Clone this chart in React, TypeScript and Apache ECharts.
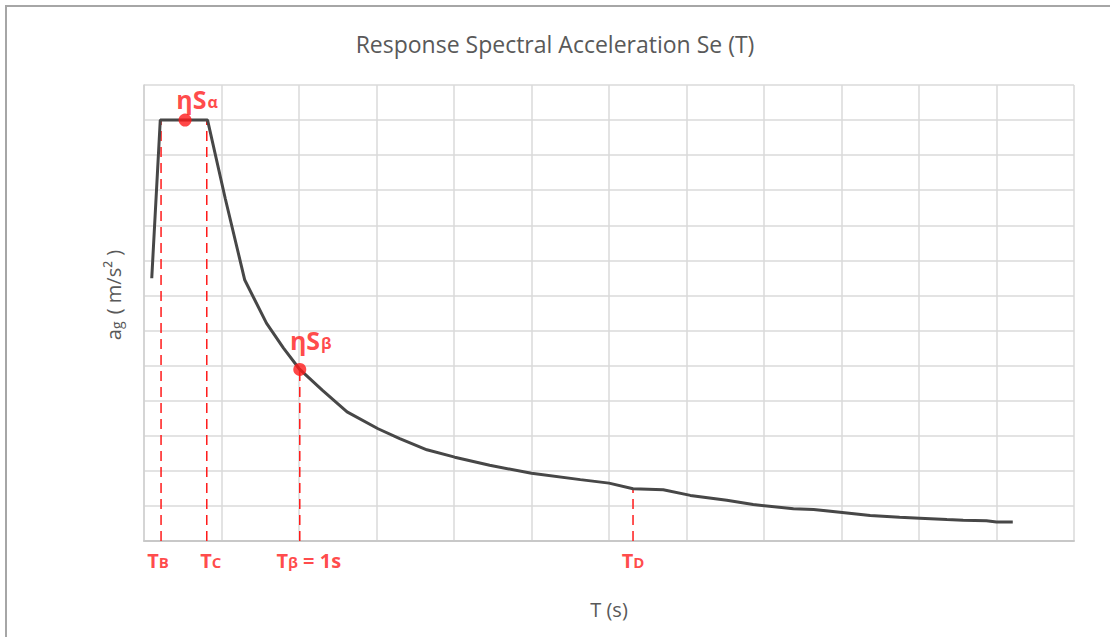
import React, { useEffect, useRef } from "react";
import * as echarts from "echarts";

const periodT = [0.10, 0.21, 0.82, 1.05, 1.30, 1.58, 1.80, 2.01, 2.30, 2.62, 3.02, 3.30, 3.65, 4.01, 4.46, 5.0, 5.63, 6.0, 6.31, 6.70, 7.05, 7.52, 7.86, 8.38, 8.64, 8.98, 9.37, 9.75, 10.01, 10.36, 10.57, 10.87, 11.0, 11.21];
const accel = [7.49, 12.0, 12.0, 9.75, 7.44, 6.21, 5.5, 4.89, 4.3, 3.68, 3.2, 2.92, 2.6, 2.39, 2.16, 1.93, 1.75, 1.65, 1.49, 1.46, 1.30, 1.16, 1.04, 0.92, 0.90, 0.82, 0.73, 0.68, 0.65, 0.61, 0.59, 0.58, 0.54, 0.54];

// characteristic periods (dashed lines): x position and top value
const markNames = ["T{s|B}", "T{s|C}", "T{s|β} = 1s", "T{s|D}"];
const markT = [0.22, 0.81, 2.01, 6.31];
const markTop = [12.0, 12.0, 4.89, 1.49];
const markLabelShift = [-3, 4, 9, 0];

// highlighted points
const pointNames = ["ηS{s|α}", "ηS{s|β}"];
const pointT = [0.53, 2.01];
const pointA = [12.0, 4.89];

const xMax = 12;
const yMax = 13;

const RED = "#ff1a1a";
const GRAY_TEXT = "#595959";
const FONT = "Open Sans";

export default function App() {
  const ref = useRef<HTMLDivElement>(null);
  useEffect(() => {
    if (!ref.current) return;
    const chart = echarts.init(ref.current, null, { renderer: "svg" });

    const curve = periodT.map((t, i) => [t, accel[i]]);
    const dashed = markT.map((t, i) => ({
      type: "line",
      data: [[t, 0], [t, markTop[i]]],
      symbol: "none",
      silent: true,
      z: 1,
      lineStyle: { color: RED, width: 1.5, type: [10, 6] },
    }));

    const tickRich = {
      s: { fontSize: 15, fontWeight: "bold", color: RED, fontFamily: FONT, padding: [3, 0, 0, 0] },
    };
    const pointRich = {
      s: { fontSize: 16, fontWeight: "bold", color: RED, fontFamily: FONT, padding: [6, 0, 0, 1] },
    };

    chart.setOption({
      animation: false,
      backgroundColor: "#ffffff",
      title: {
        text: "Response Spectral Acceleration Se (T)",
        left: "center",
        top: 27,
        textStyle: { color: GRAY_TEXT, fontSize: 23, fontWeight: "normal", fontFamily: FONT },
      },
      grid: { left: 144, right: 36, top: 85, bottom: 96 },
      xAxis: {
        type: "value",
        min: 0,
        max: xMax,
        interval: 1,
        name: "T (s)",
        nameLocation: "middle",
        nameGap: 58,
        nameTextStyle: { color: GRAY_TEXT, fontSize: 20, fontFamily: FONT },
        axisLabel: { show: false },
        axisTick: { show: false },
        axisLine: { show: true, lineStyle: { color: "#c8c8c8", width: 2 } },
        splitLine: { show: true, lineStyle: { color: "#dadada", width: 1.5 } },
      },
      yAxis: {
        type: "value",
        min: 0,
        max: yMax,
        interval: 1,
        axisLabel: { show: false },
        axisTick: { show: false },
        axisLine: { show: true, lineStyle: { color: "#d0d0d0", width: 1.5 } },
        splitLine: { show: true, lineStyle: { color: "#dadada", width: 1.5 } },
      },
      graphic: [
        {
          type: "polyline",
          shape: { points: [[6, 637], [6, 6], [1110, 6]] },
          style: { stroke: "#a6a6a6", lineWidth: 2, fill: "none" },
          silent: true,
        },
        {
          type: "text",
          x: 113,
          y: 295,
          rotation: Math.PI / 2,
          silent: true,
          style: {
            text: "a{s|g} ( m/s² )",
            fill: GRAY_TEXT,
            fontSize: 20,
            fontFamily: FONT,
            align: "center",
            verticalAlign: "middle",
            rich: { s: { fontSize: 14, fill: GRAY_TEXT, fontFamily: FONT, padding: [7, 2, 0, 0] } },
          },
        },
      ],
      series: [
        ...dashed,
        {
          type: "line",
          data: curve,
          symbol: "none",
          z: 3,
          lineStyle: { color: "#474747", width: 3 },
        },
        {
          type: "scatter",
          z: 4,
          symbolSize: 13,
          itemStyle: { color: RED },
          data: pointT.map((t, i) => ({
            value: [t, pointA[i]],
            label: {
              show: true,
              position: "top",
              offset: i === 0 ? [12, 3] : [11, -5],
              formatter: pointNames[i],
              color: RED,
              fontSize: 25,
              fontWeight: "bold",
              fontFamily: FONT,
              rich: pointRich,
            },
          })),
        },
        {
          type: "scatter",
          z: 4,
          symbolSize: 0,
          silent: true,
          data: markT.map((t, i) => ({
            value: [t, 0],
            label: {
              show: true,
              position: "bottom",
              distance: 9,
              offset: [markLabelShift[i], 0],
              formatter: markNames[i],
              color: RED,
              fontSize: 20,
              fontWeight: "bold",
              fontFamily: FONT,
              rich: tickRich,
            },
          })),
        },
      ],
    });
    return () => chart.dispose();
  }, []);
  return (
    <div
      ref={ref}
      style={{ position: "fixed", left: 0, top: 0, width: 1110, height: 637, background: "#fff" }}
    />
  );
}
